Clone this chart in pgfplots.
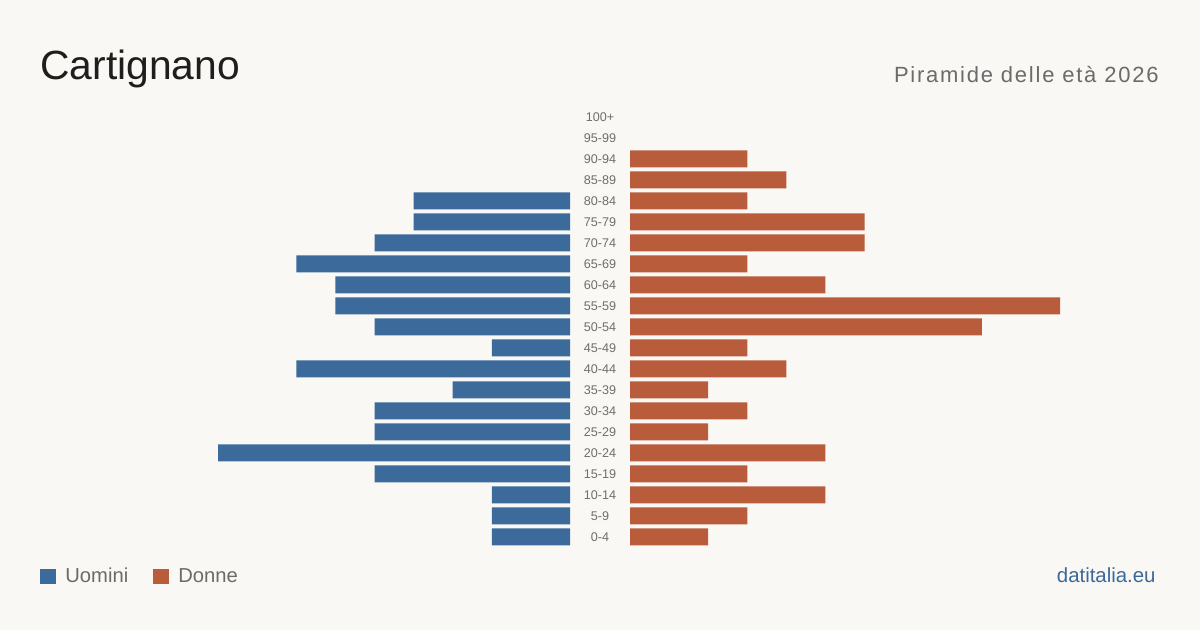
\documentclass[border=0pt]{standalone}
\usepackage{pgfplots}
\pgfplotsset{compat=1.18}
\usepackage{fontspec}
\setmainfont{Liberation Sans}
\definecolor{bg}{HTML}{F9F8F4}
\definecolor{men}{HTML}{3B6A9B}
\definecolor{women}{HTML}{B95C3C}
\definecolor{titlec}{HTML}{1E1E1E}
\definecolor{subc}{HTML}{6B6B6B}
\definecolor{lab}{HTML}{6E6E6E}
\begin{document}
\begin{tikzpicture}
\fill[bg] (0,0) rectangle (600pt,315pt);
\useasboundingbox (0,0) rectangle (600pt,315pt);
\node[anchor=base west,inner sep=0,text=titlec,font=\fontsize{20.4pt}{24pt}\selectfont] at (20pt,275pt) {Cartignano};
\node[anchor=base east,inner sep=0,text=subc,font=\fontsize{11pt}{13pt}\selectfont\addfontfeature{LetterSpace=8}] at (579.5pt,273.5pt) {Piramide delle età 2026};
% left axis (Uomini)
\begin{axis}[
  at={(285pt,41.25pt)}, anchor=south east,
  scale only axis, width=215pt, height=220.5pt,
  x dir=reverse, xmin=0, xmax=11, ymin=-0.5, ymax=20.5,
  axis line style={draw=none}, xtick=\empty, ytick=\empty,
  xbar, bar width=8.5pt, bar shift=0pt,
]
\addplot[fill=men, draw=none] coordinates {
(2,0) (2,1) (2,2) (5,3) (9,4) (5,5) (5,6) (3,7) (7,8) (2,9)
(5,10) (6,11) (6,12) (7,13) (5,14) (4,15) (4,16)
};
\end{axis}
% right axis (Donne)
\begin{axis}[
  at={(315pt,41.25pt)}, anchor=south west,
  scale only axis, width=215pt, height=220.5pt,
  xmin=0, xmax=11, ymin=-0.5, ymax=20.5,
  axis line style={draw=none}, xtick=\empty,
  ytick={0,...,20},
  yticklabels={0-4,5-9,10-14,15-19,20-24,25-29,30-34,35-39,40-44,45-49,50-54,55-59,60-64,65-69,70-74,75-79,80-84,85-89,90-94,95-99,100+},
  major tick length=0pt,
  yticklabel style={anchor=center, xshift=-15pt, text=lab, font=\fontsize{6.3pt}{7pt}\selectfont},
  xbar, bar width=8.5pt, bar shift=0pt,
]
\addplot[fill=women, draw=none] coordinates {
(2,0) (3,1) (5,2) (3,3) (5,4) (2,5) (3,6) (2,7) (4,8) (3,9)
(9,10) (11,11) (5,12) (3,13) (6,14) (6,15) (3,16) (4,17) (3,18)
};
\end{axis}
% legend
\fill[men] (20pt,22.75pt) rectangle (27.75pt,30.5pt);
\node[anchor=base west,inner sep=0,text=subc,font=\fontsize{10.1pt}{12pt}\selectfont] at (32.5pt,23.5pt) {Uomini};
\fill[women] (76.5pt,22.75pt) rectangle (84.25pt,30.5pt);
\node[anchor=base west,inner sep=0,text=subc,font=\fontsize{10.1pt}{12pt}\selectfont] at (89pt,23.5pt) {Donne};
\node[anchor=base east,inner sep=0,text=men,font=\fontsize{10.2pt}{12pt}\selectfont] at (578pt,23.5pt) {datitalia.eu};
\end{tikzpicture}
\end{document}
